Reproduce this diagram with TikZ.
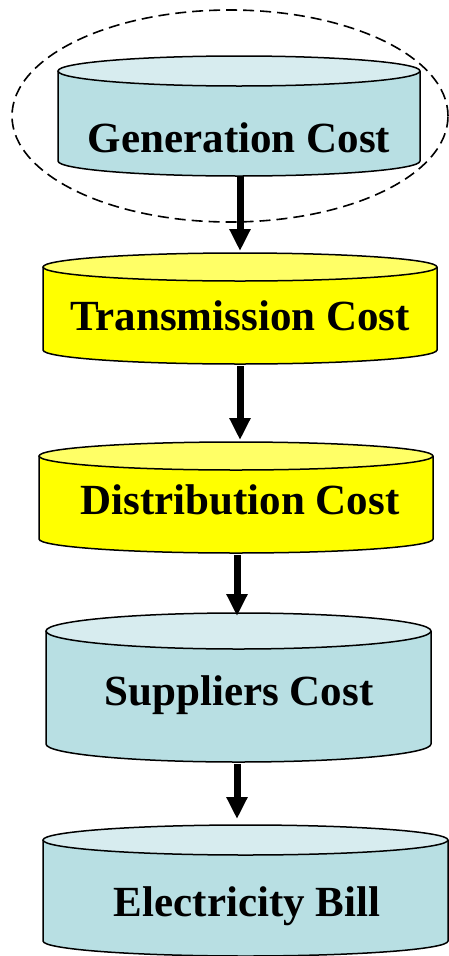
\documentclass[tikz,border=0pt]{standalone}
\usepackage{fontspec}
\setmainfont{Liberation Serif}
\usepackage{tikz}
\usetikzlibrary{arrows.meta}
\definecolor{drumblue}{HTML}{B8DFE3}
\definecolor{lidblue}{HTML}{D7ECEF}
\definecolor{drumyellow}{HTML}{FFFF00}
\definecolor{lidyellow}{HTML}{FFFF66}
\tikzset{
  drumline/.style={line width=1.5pt, black},
  drumtext/.style={anchor=base, font=\fontsize{43}{48}\selectfont\bfseries},
  flow/.style={line width=7pt, -{Triangle[width=20pt,length=22pt]}},
}

\begin{document}
\begin{tikzpicture}[x=1pt,y=1pt]
    \useasboundingbox (0,0) rectangle (449,-956);

    % Drums: centre x / half width / lid y / base y / radius y / body / lid
    \foreach \cx/\a/\t/\b/\r/\body/\lid in {
        239/181/71/161/15/drumblue/lidblue,
        240/197/267/350/14/drumyellow/lidyellow,
        236/197/456/539/14/drumyellow/lidyellow,
        238.5/192.5/631/744/18/drumblue/lidblue,
        245.5/202.5/840/941/15/drumblue/lidblue}
    {
    \fill[\body] (\cx-\a,-\t) -- (\cx-\a,-\b)
        arc[start angle=180, end angle=360, x radius=\a, y radius=\r]
        -- (\cx+\a,-\t)
        arc[start angle=0, end angle=180, x radius=\a, y radius=\r] -- cycle;
    \draw[drumline] (\cx-\a,-\t) -- (\cx-\a,-\b)
        arc[start angle=180, end angle=360, x radius=\a, y radius=\r]
        -- (\cx+\a,-\t);
    \draw[drumline, fill=\lid] (\cx,-\t) ellipse[x radius=\a, y radius=\r];
    }

    % Labels
    \node[drumtext] (gen) at (239,-152) {Generation Cost};
    \node[drumtext] (tra) at (240,-330) {Transmission Cost};
    \node[drumtext] (dis) at (240,-514) {Distribution Cost};
    \node[drumtext] (sup) at (239,-705) {Suppliers Cost};
    \node[drumtext] (bil) at (247,-916) {Electricity Bill};

    % Dashed ring round the first drum
    \draw[line width=1.6pt, dash pattern=on 11pt off 6pt] (230,-116) ellipse[x radius=218, y radius=106];

    % Arrow ends
    \coordinate (gen-out) at (240,-176);
    \coordinate (tra-in)  at (240,-251);
    \coordinate (tra-out) at (240,-366);
    \coordinate (dis-in)  at (240,-440);
    \coordinate (dis-out) at (237,-555);
    \coordinate (sup-in)  at (237,-616);
    \coordinate (sup-out) at (237,-764);
    \coordinate (bil-in)  at (237,-819);

    \draw[flow] (gen-out) -- (tra-in);
    \draw[flow] (tra-out) -- (dis-in);
    \draw[flow] (dis-out) -- (sup-in);
    \draw[flow] (sup-out) -- (bil-in);

\end{tikzpicture}
\end{document}
